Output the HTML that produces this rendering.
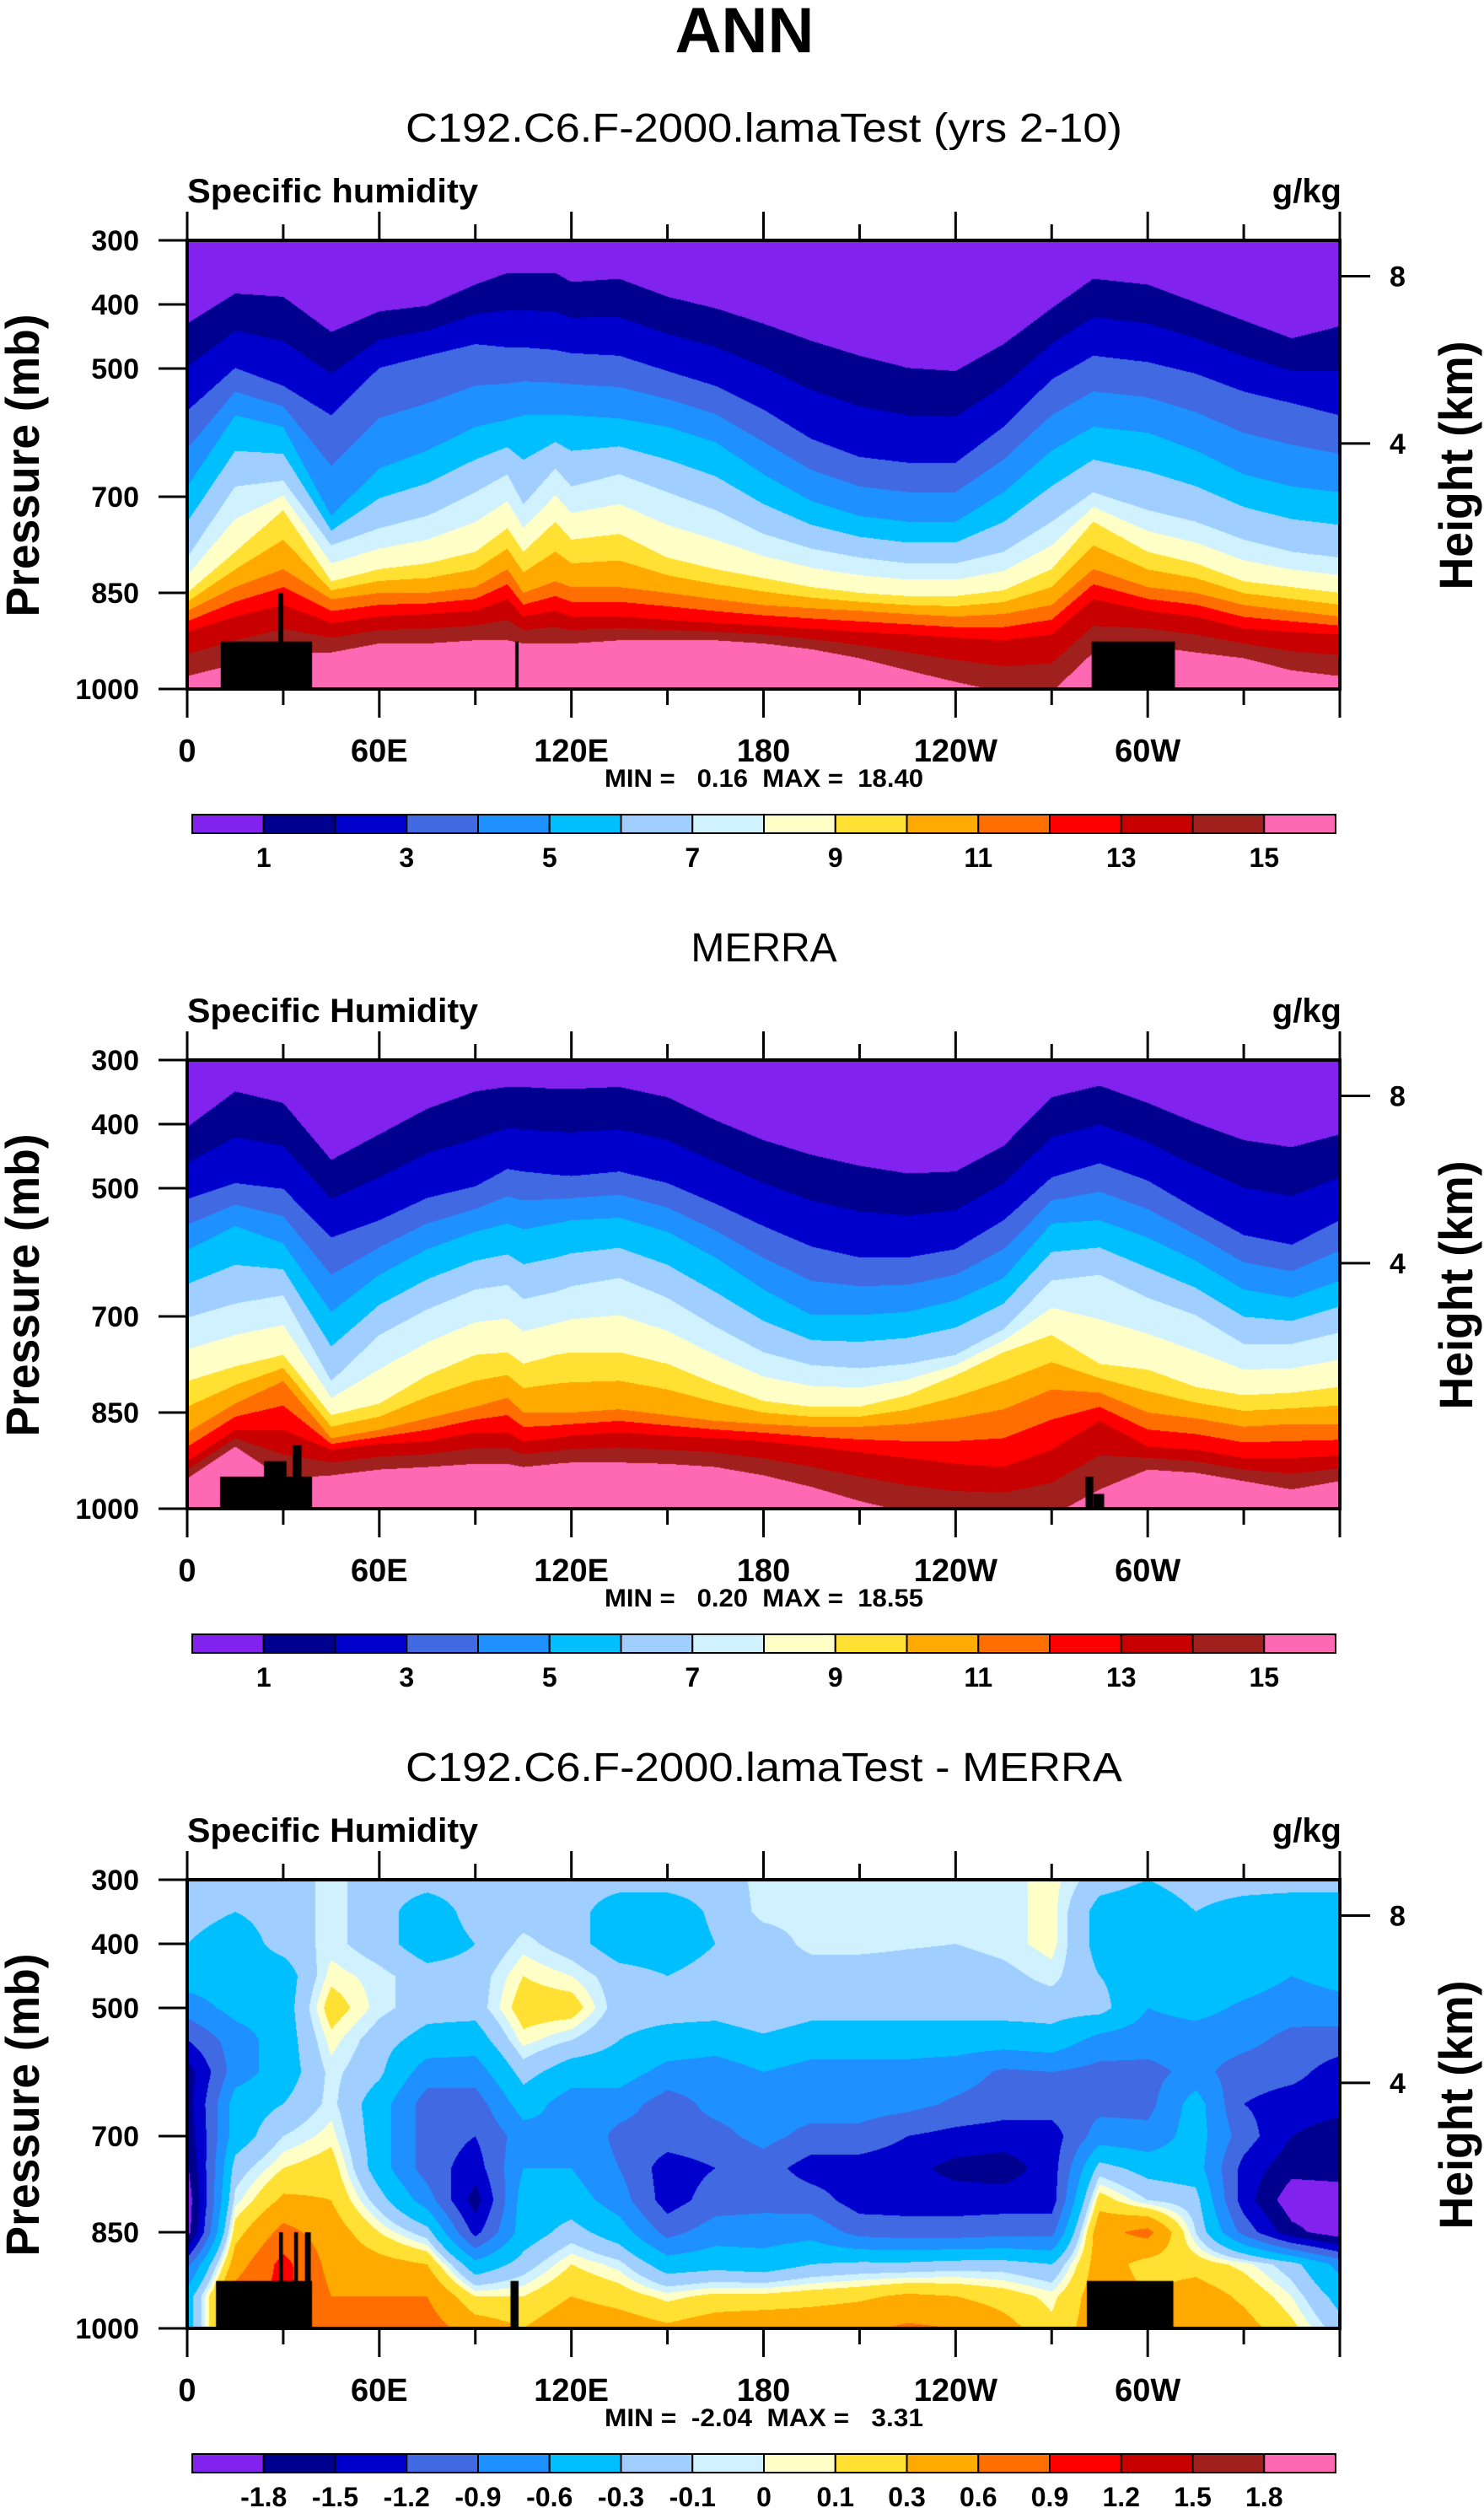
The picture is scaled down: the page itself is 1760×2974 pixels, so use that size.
<!DOCTYPE html>
<html><head><meta charset="utf-8"><style>
html,body{margin:0;padding:0;background:#fff;}
#wrap{position:relative;width:1760px;height:2974px;overflow:hidden;background:#fff;}
canvas{position:absolute;}
svg{position:absolute;left:0;top:0;}
text{font-family:"Liberation Sans",Arial,sans-serif;fill:#000;}
</style></head><body>
<div id="wrap">
<canvas id="c0" width="1367" height="532" style="left:222px;top:285px"></canvas>
<canvas id="c1" width="1367" height="532" style="left:222px;top:1257px"></canvas>
<canvas id="c2" width="1367" height="532" style="left:222px;top:2229px"></canvas>
<svg id="ov" width="1760" height="2974" viewBox="0 0 1760 2974">
<text x="883" y="62" font-size="76" font-weight="bold" text-anchor="middle">ANN</text>
<text x="906" y="168" font-size="48" text-anchor="middle" textLength="850" lengthAdjust="spacingAndGlyphs">C192.C6.F-2000.lamaTest (yrs 2-10)</text>
<text x="906" y="1140" font-size="48" text-anchor="middle">MERRA</text>
<text x="906" y="2112" font-size="48" text-anchor="middle" textLength="850" lengthAdjust="spacingAndGlyphs">C192.C6.F-2000.lamaTest - MERRA</text>
<g id="axes"></g>
</svg>
</div>
<script>
// ---------- shared data ----------
const colors = ["#8122ee","#00008e","#0000cd","#4169e1","#1e90ff","#00bfff","#a0cfff","#d0f2ff","#ffffc8","#ffe033","#ffaa00","#ff6e00","#ff0000","#c80000","#a0201e","#ff69b4"];
const lons = [0,15,30,45,60,75,90,100,105,115,120,135,150,165,180,195,210,225,240,255,270,283,300,315,330,345,360];
const lons2 = [0,15,30,45,60,75,90,100,105,115,120,135,150,165,180,195,210,225,240,255,270,285,300,315,330,345,360];
// panel 1 (model) : pressure (mb) of contour boundaries q=1,3,5,...,15 g/kg
const m_q1 = [430,383,388,443,411,402,369,351,351,351,365,360,388,406,430,457,480,499,504,462,406,360,369,397,425,453,434];
const m_q3 = [566,499,527,573,499,480,462,467,467,471,476,480,504,527,564,610,638,647,647,591,517,480,490,508,536,554,573];
const m_q5 = [684,573,591,730,656,628,591,580,573,573,573,578,591,615,665,707,730,739,739,693,628,591,600,628,665,684,693];
const m_q7 = [795,684,675,776,749,730,693,665,712,656,684,665,693,721,758,781,795,804,804,786,739,693,721,739,767,786,795];
const m_q9 = [850,786,721,832,813,804,786,749,786,739,767,758,795,813,827,841,850,855,855,846,813,739,786,804,832,841,850];
const m_q11 = [878,841,813,860,850,850,841,813,850,832,841,841,850,860,869,874,878,883,887,883,869,813,841,850,869,878,887];
const m_q13 = [911,887,869,897,887,883,878,860,887,878,887,887,892,897,901,906,911,915,920,924,915,860,878,887,906,911,915];
const m_q15 = [980,961,943,943,929,929,924,924,929,929,929,924,924,924,929,938,952,971,989,1005,1005,943,933,943,952,971,980];
// panel 2 (MERRA)
const r_q1 = [405,349,367,456,416,376,349,342,342,345,345,342,358,394,425,448,465,477,474,434,358,340,367,398,425,436,416];
const r_q3 = [517,492,501,577,550,515,497,470,474,479,481,474,492,524,559,591,608,608,595,550,483,461,488,532,573,588,550];
const r_q5 = [597,559,586,693,635,595,568,555,564,555,550,546,568,608,658,698,698,693,675,640,555,550,577,613,658,671,644];
const r_q7 = [702,680,667,801,729,689,658,651,673,662,653,640,671,716,756,776,781,774,760,720,644,635,671,698,743,743,725];
const r_q9 = [801,778,760,854,836,792,760,756,774,760,756,756,774,805,832,841,841,823,792,756,729,774,783,810,823,819,810];
const r_q11 = [881,836,801,890,877,859,841,827,850,850,850,845,854,863,868,872,872,868,859,845,814,819,850,859,872,868,868];
const r_q13 = [926,877,877,908,899,895,881,881,895,890,886,881,886,890,895,903,912,921,930,935,908,863,903,908,921,921,917];
const r_q15 = [953,903,953,948,939,935,930,930,935,930,928,928,930,935,948,966,988,1006,1015,1015,1011,970,939,944,957,970,957];
// panel 3 (difference) grid: rows = longitudes, cols = pressures
const dLons = [0,15,30,45,60,75,90,105,120,135,150,165,180,195,210,225,240,255,270,285,300,315,330,345,360];
const dPres = [300,350,400,450,500,550,600,650,700,750,800,850,900,950,1000];
const diffGrid = [
[-0.2,-0.2,-0.3,-0.45,-0.75,-1.2,-1.65,-1.65,-1.7,-1.85,-2.0,-1.95,-1.0,-0.45,-0.45],
[-0.2,-0.3,-0.45,-0.45,-0.5,-0.75,-0.75,-0.45,-0.45,-0.2,-0.05,0.2,0.45,0.75,0.75],
[-0.2,-0.2,-0.2,-0.45,-0.45,-0.45,-0.45,-0.3,-0.1,0.1,0.35,0.7,1.0,1.0,1.0],
[-0.05,-0.05,-0.05,0.05,0.2,0.05,-0.05,-0.05,0.05,0.2,0.3,0.45,0.5,0.6,0.6],
[-0.2,-0.2,-0.2,-0.05,-0.05,-0.2,-0.25,-0.45,-0.45,-0.45,-0.2,0.1,0.4,0.6,0.7],
[-0.2,-0.45,-0.45,-0.2,-0.2,-0.4,-0.75,-1.05,-1.05,-1.05,-0.75,-0.2,0.3,0.6,0.75],
[-0.2,-0.2,-0.3,-0.2,-0.2,-0.45,-0.75,-1.05,-1.2,-1.35,-1.65,-1.3,-0.5,0.1,0.45],
[-0.2,-0.2,-0.05,0.1,0.2,0.05,-0.2,-0.45,-0.75,-0.6,-0.45,-0.45,-0.2,0.1,0.3],
[-0.2,-0.2,-0.2,0.0,0.2,-0.1,-0.45,-0.75,-0.6,-0.6,-0.45,-0.2,0.1,0.3,0.5],
[-0.2,-0.45,-0.45,-0.2,-0.2,-0.3,-0.45,-0.75,-1.0,-0.9,-0.75,-0.45,-0.05,0.2,0.45],
[-0.2,-0.45,-0.45,-0.3,-0.2,-0.4,-0.7,-1.05,-1.05,-1.35,-1.35,-1.0,-0.45,0.05,0.35],
[-0.2,-0.25,-0.3,-0.2,-0.2,-0.45,-0.75,-0.8,-1.0,-1.2,-1.05,-0.75,-0.4,0.15,0.45],
[-0.05,-0.05,-0.2,-0.2,-0.1,-0.35,-0.6,-0.75,-0.8,-1.05,-1.0,-0.75,-0.45,0.15,0.5],
[-0.05,-0.05,-0.05,-0.2,-0.2,-0.45,-0.7,-0.75,-1.0,-1.35,-1.05,-0.7,-0.3,0.2,0.5],
[-0.05,-0.05,-0.05,-0.2,-0.2,-0.45,-0.7,-0.75,-1.0,-1.35,-1.35,-1.0,-0.25,0.25,0.55],
[-0.05,-0.05,-0.08,-0.2,-0.2,-0.45,-0.7,-0.8,-1.2,-1.4,-1.35,-1.05,-0.25,0.35,0.65],
[-0.05,-0.05,-0.1,-0.2,-0.2,-0.45,-0.75,-0.95,-1.3,-1.6,-1.35,-1.05,-0.2,0.3,0.6],
[-0.05,-0.05,-0.05,-0.15,-0.2,-0.45,-0.95,-1.05,-1.35,-1.65,-1.35,-1.0,-0.2,0.2,0.4],
[0.05,0.05,0.05,-0.05,-0.2,-0.4,-0.9,-1.05,-1.35,-1.35,-1.35,-1.0,-0.3,0.05,0.15],
[-0.2,-0.4,-0.4,-0.3,-0.2,-0.7,-1.0,-1.0,-0.75,-0.2,0.2,0.5,0.45,0.45,0.45],
[-0.3,-0.45,-0.45,-0.45,-0.6,-0.75,-1.0,-1.0,-0.8,-0.4,-0.1,0.7,0.2,0.3,0.3],
[-0.2,-0.3,-0.45,-0.45,-0.5,-0.75,-0.8,-0.45,-0.45,-0.45,-0.2,-0.1,0.2,0.45,0.5],
[-0.2,-0.4,-0.45,-0.45,-0.65,-0.8,-1.05,-1.2,-1.05,-1.3,-1.35,-1.0,0.05,0.25,0.4],
[-0.2,-0.45,-0.45,-0.6,-0.75,-1.0,-1.1,-1.35,-1.5,-1.7,-2.0,-1.7,-0.2,0.0,0.15],
[-0.2,-0.45,-0.45,-0.5,-0.7,-1.05,-1.35,-1.4,-1.65,-1.65,-2.0,-2.0,-0.7,-0.4,-0.2]
];
const diffLevels = [-1.8,-1.5,-1.2,-0.9,-0.6,-0.3,-0.1,0,0.1,0.3,0.6,0.9,1.2,1.5,1.8];
// land masks: [lonStart, lonEnd, topPressure]
const land1 = [[10.5,39,926],[28.5,30,850],[102.5,103.5,926],[282.5,308.5,926]];
const land2 = [[10.3,39,950],[24,31,926],[33,35.7,901],[280.6,283,950],[283,286.4,977]];
const land3 = [[9,39,926],[28.7,29.9,850],[33.4,34.6,850],[36.8,38.6,850],[101,103.5,926],[281,308,926]];
// axes
const presTicks = [300,400,500,700,850,1000];
const heightTickP = [356,617];
const heightTickLabels = ["8","4"];
const lonTicks = [0,30,60,90,120,150,180,210,240,270,300,330,360];
const lonLabelLons = [0,60,120,180,240,300];
const lonLabels = ["0","60E","120E","180","120W","60W"];
const cbLabels1 = ["1","","3","","5","","7","","9","","11","","13","","15"];
const cbLabels3 = ["-1.8","-1.5","-1.2","-0.9","-0.6","-0.3","-0.1","0","0.1","0.3","0.6","0.9","1.2","1.5","1.8"];
const leftTitles = ["Specific humidity","Specific Humidity","Specific Humidity"];
const minmax = ["MIN =   0.16  MAX =  18.40","MIN =   0.20  MAX =  18.55","MIN =  -2.04  MAX =   3.31"];

// ---------- geometry ----------
const W = 1367, H = 532, X0 = 222;
const tops = [285,1257,2229];
function xOf(lon){ return X0 + lon/360*W; }
function yRel(p){ return (p-300)/700*H; }
function interp(xs, ys, x){
  if (x<=xs[0]) return ys[0];
  for (let i=1;i<xs.length;i++){ if (x<=xs[i]){ const t=(x-xs[i-1])/(xs[i]-xs[i-1]); return ys[i-1]+t*(ys[i]-ys[i-1]); } }
  return ys[ys.length-1];
}
function drawLayered(ctx, lonArr, anchors){
  for (let px=0; px<W; px++){
    const lon=(px+0.5)/W*360;
    const b=anchors.map(a=>interp(lonArr,a,lon));
    const full=[];
    for (let j=0;j<8;j++){ full.push(b[j]); if (j<7) full.push((b[j]+b[j+1])/2); }
    let prev=0;
    for (let lev=0; lev<16; lev++){
      let yEnd = lev<15 ? Math.round(yRel(full[lev])) : H;
      yEnd=Math.max(prev, Math.min(H,yEnd));
      if (yEnd>prev){ ctx.fillStyle=colors[lev]; ctx.fillRect(px,prev,1,yEnd-prev); }
      prev=yEnd;
    }
  }
}
function hexRgb(h){ return [parseInt(h.substr(1,2),16),parseInt(h.substr(3,2),16),parseInt(h.substr(5,2),16)]; }
function drawGrid(ctx){
  const img=ctx.createImageData(W,H); const rgb=colors.map(hexRgb);
  for (let py=0; py<H; py++){
    const p=300+(py+0.5)/H*700;
    let pi=Math.min(dPres.length-2, Math.floor((p-300)/50)); const tp=(p-dPres[pi])/(dPres[pi+1]-dPres[pi]);
    for (let px=0; px<W; px++){
      const lon=(px+0.5)/W*360;
      let li=Math.min(dLons.length-2, Math.floor(lon/15)); const tl=(lon-dLons[li])/(dLons[li+1]-dLons[li]);
      const v=(1-tl)*((1-tp)*diffGrid[li][pi]+tp*diffGrid[li][pi+1]) + tl*((1-tp)*diffGrid[li+1][pi]+tp*diffGrid[li+1][pi+1]);
      let k=0; while(k<diffLevels.length && v>=diffLevels[k]) k++;
      const c=rgb[k], o=(py*W+px)*4;
      img.data[o]=c[0]; img.data[o+1]=c[1]; img.data[o+2]=c[2]; img.data[o+3]=255;
    }
  }
  ctx.putImageData(img,0,0);
}
function drawLand(ctx, land){
  ctx.fillStyle="#000";
  land.forEach(l=>{ const x0=xOf(l[0])-X0, x1=xOf(l[1])-X0, y=yRel(l[2]); ctx.fillRect(x0,y,Math.max(2,x1-x0),H-y); });
}
const c0=document.getElementById('c0').getContext('2d');
drawLayered(c0, lons, [m_q1,m_q3,m_q5,m_q7,m_q9,m_q11,m_q13,m_q15]); drawLand(c0, land1);
const c1=document.getElementById('c1').getContext('2d');
drawLayered(c1, lons2, [r_q1,r_q3,r_q5,r_q7,r_q9,r_q11,r_q13,r_q15]); drawLand(c1, land2);
const c2=document.getElementById('c2').getContext('2d');
drawGrid(c2); drawLand(c2, land3);

// ---------- axes ----------
const NS="http://www.w3.org/2000/svg";
const axes=document.getElementById('axes');
function mk(tag, attrs, parent){ const e=document.createElementNS(NS,tag); for (const k in attrs) e.setAttribute(k,attrs[k]); (parent||axes).appendChild(e); return e; }
function line(x1,y1,x2,y2,w,parent){ return mk('line',{x1:x1,y1:y1,x2:x2,y2:y2,stroke:'#000','stroke-width':w},parent); }
function txt(s,x,y,size,anchor,bold,parent){ const t=mk('text',{x:x,y:y,'font-size':size,'text-anchor':anchor,'font-weight':bold?'bold':'normal'},parent); t.textContent=s; t.setAttribute('style','white-space:pre'); return t; }

tops.forEach((top,pi)=>{
  const g=mk('g',{});
  
  
  const bot=top+H, right=X0+W;
  const frame=mk('rect',{x:X0,y:top,width:W,height:H,fill:'none',stroke:'#000','stroke-width':4},g);
  
  
  presTicks.forEach(p=>{
    const y=top+yRel(p);
    const tk=line(188,y,X0,y,3,g);
    
    
    const lb=txt(String(p),165,y+12,34,'end',true,g);
    
    
  });
  heightTickP.forEach((p,i)=>{
    const y=top+yRel(p);
    const tk=line(right,y,1625,y,3,g);
    
    
    const lb=txt(heightTickLabels[i],1648,y+12,34,'start',true,g);
    
    
  });
  lonTicks.forEach(l=>{
    const x=xOf(l), major=(l%60===0), len=major?34:19;
    const t1=line(x,bot,x,bot+len,3,g);
    
    
    const t2=line(x,top,x,top-len,3,g);
    
    
  });
  lonLabelLons.forEach((l,i)=>{
    const lb=txt(lonLabels[i],xOf(l),bot+86,38,'middle',true,g);
    
    
  });
  const yl=txt('Pressure (mb)',0,0,56,'middle',true,g);
  yl.setAttribute('transform','translate(46,'+(top+267)+') rotate(-90)');
  yl.setAttribute('textLength','359'); yl.setAttribute('lengthAdjust','spacingAndGlyphs');
  
  
  const yr=txt('Height (km)',0,0,56,'middle',true,g);
  yr.setAttribute('transform','translate(1746,'+(top+267)+') rotate(-90)');
  yr.setAttribute('textLength','295'); yr.setAttribute('lengthAdjust','spacingAndGlyphs');
  
  
  const lt=txt(leftTitles[pi],X0,top-45,40,'start',true,g);
  lt.setAttribute('textLength','345'); lt.setAttribute('lengthAdjust','spacingAndGlyphs');
  
  
  const un=txt('g/kg',1591,top-45,40,'end',true,g);
  
  
  const mm=txt(minmax[pi],906,top+648,30,'middle',true,g);
  mm.setAttribute('textLength','378'); mm.setAttribute('lengthAdjust','spacingAndGlyphs');
  
  
  // colorbar
  const cbY=top+681, cbH=22, cbX=228, bw=1356/16;
  const cb=mk('g',{},g);
  
  
  colors.forEach((c,i)=>{
    const r=mk('rect',{x:cbX+i*bw,y:cbY,width:bw,height:cbH,fill:c,stroke:'#000','stroke-width':2},cb);
    
    
  });
  const labs = pi<2 ? cbLabels1 : cbLabels3;
  labs.forEach((s,i)=>{
    if(!s) return;
    const lb=txt(s,cbX+(i+1)*bw,cbY+62,32,'middle',true,cb);
    
    
  });
});
</script>
</body></html>
